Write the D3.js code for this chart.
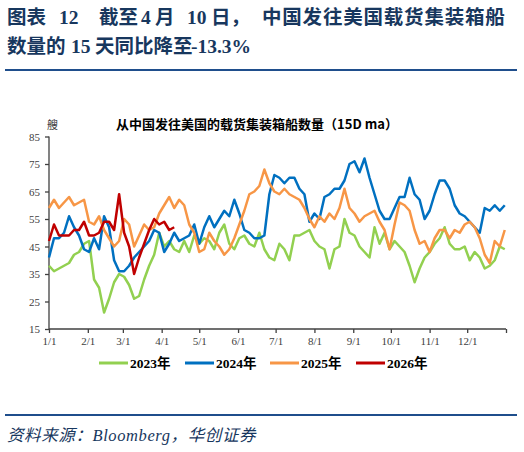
<!DOCTYPE html>
<html>
<head>
<meta charset="utf-8">
<script src="https://cdn.jsdelivr.net/npm/d3@7"></script>
<style>
  body { margin: 0; background: #fff; }
  svg { display: block; }
</style>
</head>
<body>
<div id="chart-area"></div>
<script>
// values, one every 4 days from 1/1
const sampleStep = 4
const vessels2023 = [38, 36, 37, 38, 39, 42, 43, 46, 47, 33, 30, 21, 26, 32, 35, 34, 31, 26, 27, 33, 38, 42, 50, 45,
  47, 44, 43, 47, 43, 49, 46, 48, 47, 44, 50, 53, 46, 44, 48, 49, 46, 45, 50, 44, 41, 40, 46, 44, 40, 49,
  49, 50, 51, 47, 45, 44, 37, 44, 45, 55, 50, 49, 45, 43, 41, 52, 46, 50, 44, 47, 45, 43, 38, 32, 37, 41,
  43, 46, 48, 52, 46, 44, 44, 45, 40, 43, 41, 37, 38, 40, 45, 44]
const vessels2024 = [41, 48, 48, 50, 56, 52, 49, 44, 43, 48, 44, 56, 52, 40, 36, 36, 38, 41, 43, 45, 47, 51, 50, 43,
  46, 50, 47, 48, 49, 53, 46, 52, 56, 52, 55, 58, 56, 62, 57, 51, 50, 48, 48, 49, 64, 71, 70, 68, 70, 70,
  66, 64, 54, 57, 55, 63, 64, 66, 66, 69, 75, 76, 72, 77, 70, 64, 58, 55, 55, 59, 63, 63, 70, 64, 62, 55,
  58, 64, 69, 69, 66, 60, 57, 56, 54, 52, 50, 59, 58, 60, 58, 60]
const vessels2025 = [59, 62, 59, 61, 63, 60, 61, 62, 54, 53, 56, 51, 48, 45, 47, 55, 53, 45, 49, 53, 51, 52, 57, 60,
  63, 59, 62, 60, 53, 50, 43, 44, 50, 47, 45, 42, 44, 48, 53, 58, 64, 65, 67, 73, 68, 65, 64, 66, 64, 63,
  62, 59, 55, 52, 56, 54, 57, 55, 59, 66, 59, 57, 54, 56, 57, 58, 54, 51, 44, 53, 61, 60, 58, 51, 46, 47,
  43, 48, 51, 51, 48, 51, 50, 53, 54, 52, 48, 42, 39, 47, 45, 51]
const vessels2026 = [47, 53, 49, 49, 49, 51, 51, 54, 49, 49, 50, 54, 54, 51, 64, 50, 45, 35, 41, 46, 51, 55, 53, 54,
  51, 52]

const seriesNames = ["2023年", "2024年", "2025年", "2026年"]
const seriesColors = ["#92d050", "#0070c0", "#f79646", "#c00000"]
const seriesValues = [vessels2023, vessels2024, vessels2025, vessels2026]

const monthLabels = ["1/1", "2/1", "3/1", "4/1", "5/1", "6/1", "7/1", "8/1", "9/1", "10/1", "11/1", "12/1"]
const monthStartDays = [0, 31, 59, 90, 120, 151, 181, 212, 243, 273, 304, 334, 365]
const yTicks = [15, 25, 35, 45, 55, 65, 75, 85]

const svgWidth = 524
const svgHeight = 452
const plot = { left: 49, right: 506, top: 136.5, bottom: 329 }
const navy = "#17375e"

const svg = d3.select("#chart-area")
  .append("svg")
  .attr("width", svgWidth)
  .attr("height", svgHeight)

// header
const head = svg.append("g")
  .attr("fill", navy)
  .attr("font-family", "'Liberation Serif', 'Noto Sans CJK SC', serif")
  .attr("font-weight", 700)
  .attr("font-size", 19.5)

const headPieces = [
  ["图表", 7, 24], ["12", 59, 24], ["截至", 99, 24], ["4", 141, 24], ["月", 155, 24],
  ["10", 187, 24], ["日，", 211, 24], ["中国发往美国载货集装箱船", 262, 24],
  ["数量的", 7, 53], ["15", 71, 53], ["天同比降至", 95, 53], ["-13.3%", 191, 53]
]
head.selectAll("text")
  .data(headPieces)
  .join("text")
  .attr("x", d => d[1])
  .attr("y", d => d[2])
  .attr("letter-spacing", d => d[0] === "中国发往美国载货集装箱船" ? 0.8 : 0)
  .text(d => d[0])

svg.append("line")
  .attr("x1", 5).attr("x2", 517)
  .attr("y1", 70).attr("y2", 70)
  .attr("stroke", "#1f4e8c")
  .attr("stroke-width", 2)

// chart title and unit
svg.append("text")
  .attr("x", 257)
  .attr("y", 129)
  .attr("text-anchor", "middle")
  .attr("font-family", "'Noto Sans CJK SC', sans-serif")
  .attr("font-weight", 700)
  .attr("font-size", 13)
  .attr("fill", "#000")
  .text("从中国发往美国的载货集装箱船数量（15D ma）")

svg.append("text")
  .attr("x", 47)
  .attr("y", 129)
  .attr("font-family", "'Noto Sans CJK SC', sans-serif")
  .attr("font-size", 11)
  .attr("fill", "#404040")
  .text("艘")

const xScale = d3.scaleLinear()
  .domain([0, 365])
  .range([plot.left, plot.right])

const yScale = d3.scaleLinear()
  .domain([15, 85])
  .range([plot.bottom, plot.top])

// axes
const yAxis = svg.append("g")
  .attr("transform", `translate(${plot.left},0)`)
  .call(d3.axisLeft(yScale).tickValues(yTicks).tickSize(4).tickPadding(5))

const xAxis = svg.append("g")
  .attr("transform", `translate(0,${plot.bottom})`)
  .call(d3.axisBottom(xScale).tickValues(monthStartDays).tickSize(4).tickPadding(4)
    .tickFormat((d, i) => monthLabels[i] || ""))

;[xAxis, yAxis].forEach(g => {
  g.select(".domain").attr("stroke", "#404040").attr("stroke-width", 1.3)
  g.selectAll(".tick line").attr("stroke", "#404040").attr("stroke-width", 1.3)
  g.selectAll(".tick text")
    .attr("fill", "#404040")
    .attr("font-family", "'Liberation Serif', serif")
    .attr("font-size", 11)
})
xAxis.select(".domain").attr("d", `M${plot.left},0H${plot.right}`)
yAxis.select(".domain").attr("d", `M0,${plot.bottom}V${plot.top}`)

// lines
const line = d3.line()
  .x((d, i) => xScale(i * sampleStep))
  .y(d => yScale(d))

svg.append("g")
  .selectAll("path")
  .data(seriesValues)
  .join("path")
  .attr("fill", "none")
  .attr("stroke", (d, i) => seriesColors[i])
  .attr("stroke-width", 2.5)
  .attr("stroke-linejoin", "round")
  .attr("d", d => line(d))

// legend
const legendX = [99, 185, 270, 356]
const legend = svg.append("g")
  .selectAll("g")
  .data(seriesNames)
  .join("g")
  .attr("transform", (d, i) => `translate(${legendX[i]},363)`)

legend.append("line")
  .attr("x1", 0).attr("x2", 29)
  .attr("stroke", (d, i) => seriesColors[i])
  .attr("stroke-width", 3)

legend.append("text")
  .attr("x", 31)
  .attr("y", 5)
  .attr("font-family", "'Liberation Serif', 'Noto Sans CJK SC', serif")
  .attr("font-weight", 700)
  .attr("font-size", 13.5)
  .attr("fill", "#000")
  .text(d => d)

// footer
svg.append("line")
  .attr("x1", 5).attr("x2", 517)
  .attr("y1", 415).attr("y2", 415)
  .attr("stroke", "#1f4e8c")
  .attr("stroke-width", 2)

svg.append("text")
  .attr("x", 7)
  .attr("y", 441)
  .attr("font-family", "'Liberation Serif', 'Noto Sans CJK SC', serif")
  .attr("font-style", "italic")
  .attr("font-size", 16.5)
  .attr("letter-spacing", 0.6)
  .attr("fill", navy)
  .text("资料来源：Bloomberg，华创证券")
</script>
</body>
</html>
